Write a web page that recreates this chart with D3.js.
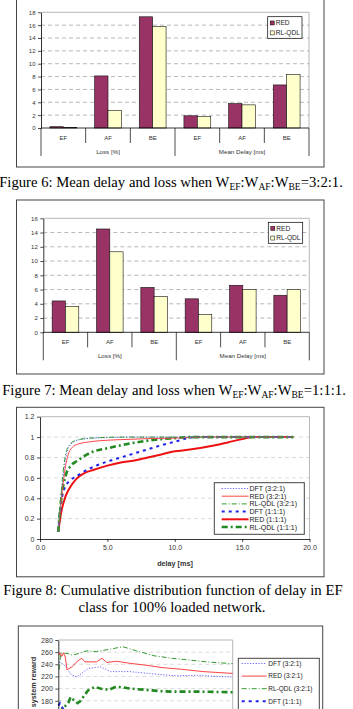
<!DOCTYPE html>
<html><head><meta charset="utf-8">
<script src="https://cdn.jsdelivr.net/npm/d3@7"></script>
<style>body{margin:0;background:#fff;} svg{display:block;}</style>
</head><body>
<svg id="c" width="353" height="709"></svg>
<script>
// ---------- DATA ----------
const barCategories = ["EF", "AF", "BE", "EF", "AF", "BE"];
const barGroups = ["Loss [%]", "Mean Delay [ms]"];
const barSeries = ["RED", "RL-QDL"];
const fig6Red   = [0.2, 8.1, 17.3, 1.9, 3.8, 6.7];
const fig6RlQdl = [0.1, 2.7, 15.8, 1.8, 3.6, 8.3];
const fig6Ticks = [0, 2, 4, 6, 8, 10, 12, 14, 16, 18];
const fig7Red   = [4.4, 14.5, 6.3, 4.7, 6.6, 5.2];
const fig7RlQdl = [3.6, 11.3, 5.0, 2.5, 6.0, 6.0];
const fig7Ticks = [0, 2, 4, 6, 8, 10, 12, 14, 16];

const lineSeriesNames = ["DFT (3:2:1)", "RED (3:2:1)", "RL-QDL (3:2:1)", "DFT (1:1:1)", "RED  (1:1:1)", "RL-QDL (1:1:1)"];
const cdfDft321 = [[1.35,0.07],[1.6,0.45],[1.8,0.7],[2.0,0.85],[2.3,0.93],[2.7,0.965],[3.2,0.98],[4,0.99],[5,0.995],[7,1.0],[18.8,1.0]];
const cdfRed321 = [[1.35,0.07],[1.6,0.4],[1.85,0.68],[2.1,0.83],[2.4,0.9],[2.8,0.93],[3.5,0.95],[4.5,0.965],[6,0.975],[8,0.985],[10,0.99],[12,1.0],[18.8,1.0]];
const cdfRl321  = [[1.35,0.07],[1.6,0.5],[1.8,0.75],[2.0,0.88],[2.3,0.94],[2.7,0.97],[3.3,0.985],[4.5,0.995],[6,1.0],[18.8,1.0]];
const cdfDft111 = [[1.35,0.07],[1.6,0.38],[1.9,0.52],[2.3,0.58],[3,0.64],[3.5,0.68],[4,0.71],[5,0.76],[6,0.8],[7,0.84],[8,0.88],[9,0.92],[10,0.955],[11,0.99],[11.5,1.0],[18.8,1.0]];
const cdfRed111 = [[1.35,0.07],[1.6,0.28],[1.9,0.42],[2.2,0.5],[2.7,0.59],[3.2,0.64],[4,0.68],[5,0.72],[6,0.75],[7,0.77],[8,0.8],[9,0.83],[10,0.86],[11,0.875],[12,0.895],[13,0.92],[14,0.95],[15,0.98],[15.8,1.0],[18.8,1.0]];
const cdfRl111  = [[1.35,0.07],[1.6,0.42],[1.9,0.62],[2.3,0.72],[2.8,0.77],[3.5,0.83],[4,0.86],[5,0.89],[6,0.92],[7,0.945],[8,0.965],[9,0.98],[10,0.99],[11,1.0],[18.8,1.0]];
const cdfXTicks = [0, 5, 10, 15, 20];
const cdfYTicks = [0, 0.2, 0.4, 0.6, 0.8, 1, 1.2];

const rwDft321 = [[0.4,244],[3,240],[5,233],[7,224],[10.5,219],[13.4,225],[17,233],[24,236],[27,232],[30,228],[41,228],[55,224],[68,221],[80,222],[90,220],[100,219]];
const rwRed321 = [[0.4,255],[1,259],[2,253],[3,259],[4,252],[5,231],[8,236],[10.5,244],[13.4,250],[15.3,244],[22,244],[25,250],[27.8,243],[33.5,245],[41,241.6],[49,239],[60,234.5],[70,232],[83,228],[100,225]];
const rwRl321  = [[0.4,231],[1.5,258],[5,258],[8,255],[12,258],[16,262],[22,261],[30,265],[37,269],[45,262],[55,254],[65,250],[75,247],[85,244],[100,241]];
const rwDft111 = [[0,172],[1,176],[2,170],[4,162],[8,155],[15,150],[30,148],[50,147],[75,146],[100,145]];
const rwRed111 = [[0,150],[5,145],[15,140],[30,138],[60,136],[100,135]];
const rwRl111  = [[0,160],[3,168],[6,178],[7,186],[8,183],[9.5,180],[11,176],[12.5,179],[14.5,187],[17,197],[21,203],[24,200],[29,198],[33,203],[37,202],[41,200],[50,198],[58,196],[65,195],[80,195],[100,194]];
const rwYTicks = [180, 200, 220, 240, 260, 280];

// ---------- STYLES ----------
const SANS = "'Liberation Sans', Arial, sans-serif";
const SERIF = "'Liberation Serif', 'Times New Roman', serif";
const lineStyles = [
  {color:"#6666ff", width:1,   dash:"1.2,1.6"},
  {color:"#ff4444", width:1,   dash:null},
  {color:"#339933", width:1,   dash:"5,2,1,2"},
  {color:"#2222ee", width:2,   dash:"3,4"},
  {color:"#ee1111", width:2,   dash:null},
  {color:"#228822", width:2.6, dash:"6,3,2,3"}
];

const svg = d3.select("#c");

// ---------- BAR CHARTS ----------
function barChart(o) {
  const g = svg.append("g");
  g.append("rect").attr("x", o.frame[0]).attr("y", o.frame[1])
    .attr("width", o.frame[2] - o.frame[0]).attr("height", o.frame[3] - o.frame[1])
    .attr("fill", "#fff").attr("stroke", "#444").attr("stroke-width", 1);
  const y = d3.scaleLinear().domain([0, d3.max(o.ticks)]).range([o.bottom, o.top]);
  const x0 = d3.scaleBand().domain(d3.range(barCategories.length)).range([o.left, o.right]);
  const bw = x0.bandwidth();
  const x1 = d3.scaleBand().domain(barSeries).range([bw * 0.2, bw * 0.8]);
  const maxT = d3.max(o.ticks);
  g.selectAll(null).data(o.ticks.filter(t => t > 0)).join("line")
    .attr("x1", o.left).attr("x2", o.right).attr("y1", d => y(d)).attr("y2", d => y(d))
    .attr("stroke", "#999").attr("stroke-width", 0.7)
    .attr("stroke-dasharray", d => d === maxT ? null : "4,3");
  g.append("line").attr("x1", o.right).attr("x2", o.right).attr("y1", y(maxT)).attr("y2", y(0))
    .attr("stroke", "#999").attr("stroke-width", 0.7);
  const data = [];
  barCategories.forEach((c, i) => {
    data.push({i, s: barSeries[0], v: o.red[i]});
    data.push({i, s: barSeries[1], v: o.rl[i]});
  });
  g.selectAll(null).data(data).join("rect")
    .attr("x", d => x0(d.i) + x1(d.s)).attr("width", x1.bandwidth())
    .attr("y", d => y(d.v)).attr("height", d => y(0) - y(d.v))
    .attr("fill", d => d.s === "RED" ? "#993366" : "#ffffcc")
    .attr("stroke", "#111").attr("stroke-width", 0.6);
  const ya = g.append("g").attr("transform", `translate(${o.left},0)`)
    .call(d3.axisLeft(y).tickValues(o.ticks).tickSize(3).tickSizeOuter(0).tickPadding(2.5));
  ya.select(".domain").attr("stroke", "#000").attr("stroke-width", 0.8);
  ya.selectAll(".tick line").attr("stroke", "#000").attr("stroke-width", 0.7);
  ya.selectAll("text").attr("font-family", SANS).attr("font-size", 6).attr("fill", "#333");
  g.append("line").attr("x1", o.left).attr("x2", o.right).attr("y1", y(0)).attr("y2", y(0))
    .attr("stroke", "#000").attr("stroke-width", 0.8);
  const bounds = d3.range(barCategories.length + 1);
  g.selectAll(null).data(bounds).join("line")
    .attr("x1", i => i < barCategories.length ? x0(i) : o.right)
    .attr("x2", i => i < barCategories.length ? x0(i) : o.right)
    .attr("y1", y(0))
    .attr("y2", i => y(0) + (i % 3 === 0 ? 28 : 15))
    .attr("stroke", "#000").attr("stroke-width", 0.7);
  g.selectAll(null).data(barCategories).join("text")
    .attr("x", (d, i) => x0(i) + bw / 2).attr("y", y(0) + 12)
    .attr("text-anchor", "middle").attr("font-family", SANS).attr("font-size", 6).attr("fill", "#333")
    .text(d => d);
  g.selectAll(null).data(barGroups).join("text")
    .attr("x", (d, i) => x0(i * 3) + bw * 1.5).attr("y", y(0) + 26)
    .attr("text-anchor", "middle").attr("font-family", SANS).attr("font-size", 6.2).attr("fill", "#333")
    .text(d => d);
  const L = o.legend;
  g.append("rect").attr("x", L[0]).attr("y", L[1]).attr("width", L[2]).attr("height", L[3])
    .attr("fill", "#fff").attr("stroke", "#000").attr("stroke-width", 0.7);
  barSeries.forEach((s, k) => {
    const cy = L[1] + L[3] * (k === 0 ? 0.29 : 0.75);
    g.append("rect").attr("x", L[0] + 2.5).attr("y", cy - 2).attr("width", 4).attr("height", 4)
      .attr("fill", k === 0 ? "#993366" : "#ffffcc").attr("stroke", "#000").attr("stroke-width", 0.5);
    g.append("text").attr("x", L[0] + 8).attr("y", cy + 2.3)
      .attr("font-family", SANS).attr("font-size", 6.6).attr("fill", "#222").text(s);
  });
}

barChart({frame:[16.5,-20,324,167], left:41, right:309, top:12.3, bottom:128,
  ticks: fig6Ticks, red: fig6Red, rl: fig6RlQdl, legend:[267.7,16.7,34.3,21.6]});
barChart({frame:[16.5,200,324,374], left:43.3, right:309.3, top:218.3, bottom:332.3,
  ticks: fig7Ticks, red: fig7Red, rl: fig7RlQdl, legend:[268.3,222.3,34.4,21]});

// ---------- CAPTIONS ----------
function caption(x, yb, ratio) {
  const t = svg.append("text").attr("x", x).attr("y", yb).attr("text-anchor", "middle")
    .attr("font-family", SERIF).attr("font-size", 14.7).attr("fill", "#000");
  const parts = [["Figure " + ratio.fig + ": Mean delay and loss when W", 0], ["EF", 1], [":W", 0], ["AF", 1], [":W", 0], ["BE", 1], ["=" + ratio.r + ".", 0]];
  parts.forEach(([s, sub], i) => {
    const prevSub = i > 0 ? parts[i - 1][1] : 0;
    t.append("tspan").attr("font-size", sub ? 9.5 : 14.7)
      .attr("dy", sub && !prevSub ? 3 : (!sub && prevSub ? -3 : 0)).text(s);
  });
}
caption(171, 187, {fig: 6, r: "3:2:1"});
caption(174, 395, {fig: 7, r: "1:1:1"});
svg.append("text").attr("x", 173).attr("y", 595).attr("text-anchor", "middle")
  .attr("font-family", SERIF).attr("font-size", 14.8).text("Figure 8: Cumulative distribution function of delay in EF");
svg.append("text").attr("x", 172).attr("y", 612).attr("text-anchor", "middle")
  .attr("font-family", SERIF).attr("font-size", 14.8).text("class for 100% loaded network.");

// ---------- LINE CHART HELPERS ----------
function legendBox(g, L, names, opts) {
  g.append("rect").attr("x", L[0]).attr("y", L[1]).attr("width", L[2]).attr("height", L[3])
    .attr("fill", "#fff").attr("stroke", "#444").attr("stroke-width", 1);
  names.forEach((n, k) => {
    const cy = opts.y0 + k * opts.dy;
    const st = lineStyles[k];
    g.append("line").attr("x1", opts.lx0).attr("x2", opts.lx1).attr("y1", cy).attr("y2", cy)
      .attr("stroke", st.color).attr("stroke-width", st.width).attr("stroke-dasharray", st.dash);
    g.append("text").attr("x", opts.tx).attr("y", cy + opts.fs * 0.36)
      .attr("font-family", SANS).attr("font-size", opts.fs).attr("fill", "#222").text(n);
  });
}

// ---------- CDF CHART ----------
(function() {
  const g = svg.append("g");
  g.append("rect").attr("x", 16.5).attr("y", 407.3).attr("width", 307.5).attr("height", 169.5)
    .attr("fill", "#fff").attr("stroke", "#444").attr("stroke-width", 1);
  const x = d3.scaleLinear().domain([0, 20]).range([40, 309.5]);
  const y = d3.scaleLinear().domain([0, 1.2]).range([539, 416.7]);
  g.selectAll(null).data(cdfYTicks.filter(t => t > 0)).join("line")
    .attr("x1", x(0)).attr("x2", x(20)).attr("y1", d => y(d)).attr("y2", d => y(d))
    .attr("stroke", d => d === 1.2 ? "#999" : "#ccc").attr("stroke-width", 0.7)
    .attr("stroke-dasharray", d => d === 1.2 ? null : "4,3");
  g.append("line").attr("x1", x(20)).attr("x2", x(20)).attr("y1", y(1.2)).attr("y2", y(0))
    .attr("stroke", "#999").attr("stroke-width", 0.7);
  const series = [cdfDft321, cdfRed321, cdfRl321, cdfDft111, cdfRed111, cdfRl111];
  const line = d3.line().x(d => x(d[0])).y(d => y(d[1])).curve(d3.curveMonotoneX);
  [4, 3, 5, 1, 0, 2].forEach(k => {
    const st = lineStyles[k];
    g.append("path").attr("d", line(series[k])).attr("fill", "none")
      .attr("stroke", st.color).attr("stroke-width", st.width).attr("stroke-dasharray", st.dash);
  });
  const ya = g.append("g").attr("transform", `translate(${x(0)},0)`)
    .call(d3.axisLeft(y).tickValues(cdfYTicks).tickFormat(d => String(+d.toFixed(1))).tickSize(3).tickSizeOuter(0).tickPadding(2.5));
  const xa = g.append("g").attr("transform", `translate(0,${y(0)})`)
    .call(d3.axisBottom(x).tickValues(cdfXTicks).tickFormat(d3.format(".1f")).tickSize(3).tickSizeOuter(0).tickPadding(3));
  [ya, xa].forEach(a => {
    a.select(".domain").attr("stroke", "#000").attr("stroke-width", 0.8);
    a.selectAll(".tick line").attr("stroke", "#000").attr("stroke-width", 0.7);
    a.selectAll("text").attr("font-family", SANS).attr("font-size", 7).attr("fill", "#333");
  });
  g.append("text").attr("x", 175).attr("y", 566).attr("text-anchor", "middle")
    .attr("font-family", SANS).attr("font-weight", "bold").attr("font-size", 7.2).attr("fill", "#333").text("delay [ms]");
  legendBox(g, [214.3, 482.7, 90, 51.6], lineSeriesNames, {y0: 488.5, dy: 7.7, lx0: 221.7, lx1: 248.5, tx: 249.5, fs: 7});
})();

// ---------- REWARD CHART ----------
(function() {
  const g = svg.append("g");
  g.append("rect").attr("x", 18.3).attr("y", 626).attr("width", 304.4).attr("height", 200)
    .attr("fill", "#fff").attr("stroke", "#444").attr("stroke-width", 1);
  const x = d3.scaleLinear().domain([0, 100]).range([58.3, 232.7]);
  const y = d3.scaleLinear().domain([100, 280]).range([749.35, 640]);
  g.selectAll(null).data(rwYTicks).join("line")
    .attr("x1", x(0)).attr("x2", x(100)).attr("y1", d => y(d)).attr("y2", d => y(d))
    .attr("stroke", d => d === 280 ? "#999" : "#ccc").attr("stroke-width", 0.7)
    .attr("stroke-dasharray", d => d === 280 ? null : "4,3");
  g.append("line").attr("x1", x(100)).attr("x2", x(100)).attr("y1", y(280)).attr("y2", y(100))
    .attr("stroke", "#999").attr("stroke-width", 0.7);
  const series = [rwDft321, rwRed321, rwRl321, rwDft111, rwRed111, rwRl111];
  const line = d3.line().x(d => x(d[0])).y(d => y(d[1]));
  [4, 3, 5, 2, 0, 1].forEach(k => {
    const st = lineStyles[k];
    g.append("path").attr("d", line(series[k])).attr("fill", "none")
      .attr("stroke", st.color).attr("stroke-width", st.width).attr("stroke-dasharray", st.dash);
  });
  const ya = g.append("g").attr("transform", `translate(${x(0)},0)`)
    .call(d3.axisLeft(y).tickValues(rwYTicks).tickSize(3).tickSizeOuter(0).tickPadding(2.5));
  ya.select(".domain").attr("stroke", "#000").attr("stroke-width", 0.8);
  ya.selectAll(".tick line").attr("stroke", "#000").attr("stroke-width", 0.7);
  ya.selectAll("text").attr("font-family", SANS).attr("font-size", 7).attr("fill", "#333");
  g.append("text").attr("transform", "translate(35.5,682) rotate(-90)").attr("text-anchor", "middle")
    .attr("font-family", SANS).attr("font-weight", "bold").attr("font-size", 7.2).attr("fill", "#333").text("system reward");
  legendBox(g, [238.3, 658.3, 81, 80], lineSeriesNames, {y0: 663.5, dy: 12.6, lx0: 241.7, lx1: 266.7, tx: 268.3, fs: 6.5});
})();
</script>
</body></html>
